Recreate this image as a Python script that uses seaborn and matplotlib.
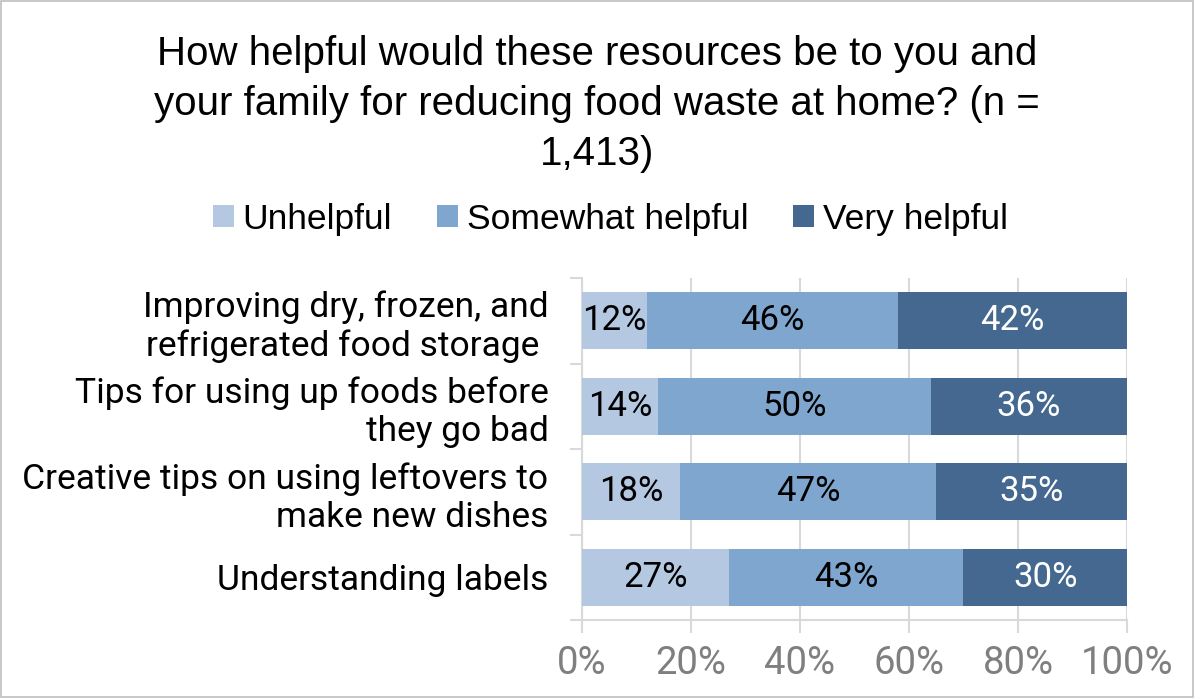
import matplotlib
matplotlib.use("Agg")
import matplotlib.pyplot as plt
from matplotlib.patches import Rectangle
from matplotlib.ticker import FixedLocator, PercentFormatter
import numpy as np
import pandas as pd
import seaborn as sns

categories = [
    "Improving dry, frozen, and\nrefrigerated food storage ",
    "Tips for using up foods before\nthey go bad",
    "Creative tips on using leftovers to\nmake new dishes",
    "Understanding labels",
]
series_names = ["Unhelpful", "Somewhat helpful", "Very helpful"]
unhelpful = [12, 14, 18, 27]
somewhat_helpful = [46, 50, 47, 43]
very_helpful = [42, 36, 35, 30]
colors = ["#B4C9E1", "#7FA6CE", "#44688F"]
label_colors = ["black", "black", "white"]
title = "How helpful would these resources be to you and\nyour family for reducing food waste at home? (n =\n1,413)"

sns.set_theme(style="white")
body_font = ["Roboto", "DejaVu Sans"]
head_font = ["Liberation Sans", "DejaVu Sans"]
plt.rcParams["font.family"] = body_font
plt.rcParams["text.color"] = "black"
plt.rcParams["ytick.labelcolor"] = "black"

fig = plt.figure(figsize=(11.94, 6.98), dpi=100)
fig.patches.append(Rectangle((0.0008, 0.0012), 0.9984, 0.9976, transform=fig.transFigure,
                             fill=False, edgecolor="#BFBFBF", linewidth=1.2))
ax = fig.add_axes([0.4874, 0.1117, 0.4565, 0.49])

values = np.array([unhelpful, somewhat_helpful, very_helpful], dtype=float)
cumulative = values.cumsum(axis=0)

# Stack by overdrawing cumulative totals, widest first
for i in range(len(series_names) - 1, -1, -1):
    df = pd.DataFrame({"category": categories, "value": cumulative[i]})
    sns.barplot(data=df, x="value", y="category", orient="h", color=colors[i],
                width=0.67, saturation=1, ax=ax, linewidth=0, zorder=3)

for i in range(len(series_names)):
    starts = cumulative[i] - values[i]
    for j in range(len(categories)):
        ax.text(starts[j] + values[i][j] / 2, j, f"{int(values[i][j])}%",
                ha="center", va="center", fontsize=25, color=label_colors[i], zorder=4)

ax.set_xlim(0, 100)
ax.set_ylim(len(categories) - 0.5, -0.5)
ax.set_xlabel("")
ax.set_ylabel("")
ax.xaxis.set_major_locator(FixedLocator([0, 20, 40, 60, 80, 100]))
ax.xaxis.set_major_formatter(PercentFormatter(decimals=0))
ax.grid(axis="x", color="#D9D9D9", linewidth=1.5, zorder=0)
ax.grid(axis="y", visible=False)
ax.yaxis.set_minor_locator(FixedLocator(np.arange(-0.5, len(categories), 1.0)))
ax.tick_params(axis="x", which="major", direction="out", length=9, width=1.5,
               color="#D9D9D9", labelsize=27.5, labelcolor="#7F7F7F", pad=9, bottom=True)
ax.tick_params(axis="y", which="major", length=0, labelsize=25.5, pad=24,
               labelcolor="black")
ax.tick_params(axis="y", which="minor", direction="out", length=9, width=1.5,
               color="#D9D9D9", left=True)
for side in ["top", "right"]:
    ax.spines[side].set_visible(False)
for side in ["left", "bottom"]:
    ax.spines[side].set_color("#D9D9D9")
    ax.spines[side].set_linewidth(1.5)
    ax.spines[side].set_zorder(2)

fig.text(0.5, 0.95, title, ha="center", va="top", fontsize=29,
         family=head_font, linespacing=1.4, color="black")

handles = [Rectangle((0, 0), 1, 1, facecolor=c, edgecolor="none") for c in colors]
fig.legend(handles, series_names, loc="center", bbox_to_anchor=(0.511, 0.686), ncol=3,
           frameon=False, prop={"family": head_font, "size": 25.5}, handlelength=0.6,
           handleheight=0.6, handletextpad=0.25, columnspacing=1.25)

fig.savefig("out.png", dpi=100)
